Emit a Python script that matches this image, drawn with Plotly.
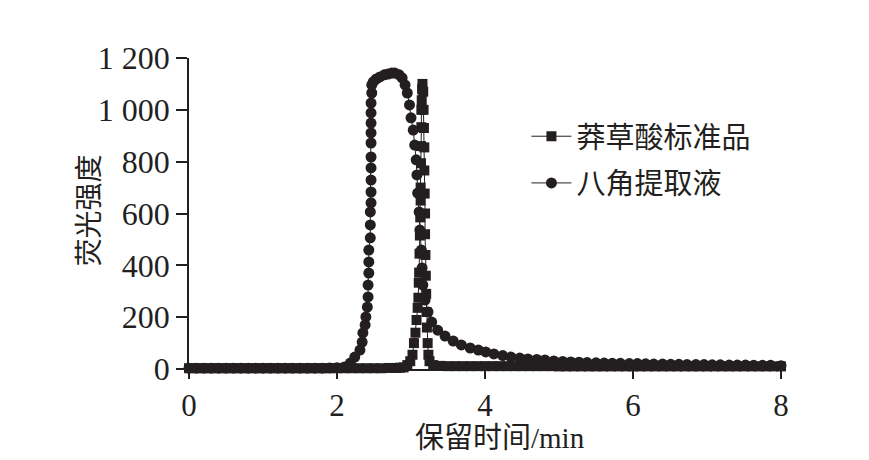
import plotly.graph_objects as go

# 八角提取液 (circles)
star_x = [0.0, 0.1, 0.2, 0.3, 0.4, 0.5, 0.6, 0.7, 0.8, 0.9, 1.0, 1.1, 1.2, 1.3, 1.4, 1.5,
          1.6, 1.7, 1.8, 1.9, 2.0, 2.1,
          2.18, 2.24, 2.31, 2.34, 2.35, 2.38, 2.39, 2.41, 2.42, 2.42, 2.43, 2.43, 2.43,
          2.45, 2.45, 2.45, 2.46, 2.46, 2.46, 2.46, 2.46, 2.46, 2.46, 2.46, 2.46, 2.46,
          2.47, 2.47, 2.49, 2.53, 2.58, 2.64, 2.69, 2.74, 2.78, 2.84, 2.88, 2.92, 2.95,
          2.98, 3.0, 3.03, 3.05, 3.07, 3.08, 3.09, 3.11, 3.12, 3.14, 3.15, 3.16, 3.19,
          3.23, 3.28, 3.36, 3.46, 3.57, 3.68, 3.80, 3.91, 4.01, 4.12, 4.24, 4.35, 4.47,
          4.58, 4.70, 4.81, 4.93, 5.05, 5.16, 5.27, 5.38, 5.50, 5.61, 5.72, 5.83, 5.95,
          6.06, 6.17, 6.28, 6.40, 6.51, 6.62, 6.73, 6.85, 6.96, 7.07, 7.18, 7.30, 7.41,
          7.52, 7.63, 7.75, 7.86, 8.0]
star_y = [3, 3, 3, 3, 3, 3, 3, 3, 3, 3, 3, 3, 3, 3, 3, 3,
          3, 3, 3, 4, 5, 8,
          23, 46, 73, 104, 139, 170, 201, 239, 278, 324, 370, 413, 459,
          506, 556, 606, 641, 683, 729, 776, 818, 872, 911, 949, 988, 1026,
          1065, 1096, 1108, 1119, 1127, 1135, 1138, 1142, 1142, 1135, 1123, 1096, 1065,
          1019, 969, 922, 864, 807, 749, 679, 606, 536, 459, 390, 324, 266,
          220, 181, 150, 127, 108, 93, 81, 73, 66, 58, 52, 46, 42,
          39, 37, 35, 31, 29, 27, 26, 25, 24, 23, 22, 22, 21,
          21, 20, 19, 19, 18, 18, 17, 17, 17, 16, 16, 15, 15,
          15, 14, 14, 14, 13]

# 莽草酸标准品 (squares)
shik_x = [0.0, 0.1, 0.2, 0.3, 0.4, 0.5, 0.6, 0.7, 0.8, 0.9, 1.0, 1.1, 1.2, 1.3, 1.4, 1.5,
          1.6, 1.7, 1.8, 1.9, 2.0, 2.1, 2.2, 2.3, 2.4, 2.5, 2.6, 2.7, 2.8,
          2.85, 2.9, 2.95, 2.99, 3.02, 3.04, 3.06, 3.075, 3.09, 3.10, 3.105, 3.11, 3.115,
          3.12, 3.125, 3.13, 3.13, 3.135, 3.135, 3.14, 3.14, 3.145, 3.15, 3.155,
          3.165, 3.17, 3.175, 3.18, 3.18, 3.185, 3.19, 3.19, 3.195, 3.2, 3.205, 3.21,
          3.215, 3.225, 3.235, 3.25, 3.3, 3.4,
          3.5, 3.6, 3.7, 3.8, 3.9, 4.0, 4.1, 4.2, 4.3, 4.4, 4.5, 4.6, 4.7, 4.8, 4.9,
          5.0, 5.1, 5.2, 5.3, 5.4, 5.5, 5.6, 5.7, 5.8, 5.9, 6.0, 6.1, 6.2, 6.3, 6.4,
          6.5, 6.6, 6.7, 6.8, 6.9, 7.0, 7.1, 7.2, 7.3, 7.4, 7.5, 7.6, 7.7, 7.8, 7.9, 8.0]
shik_y = [3, 3, 3, 3, 3, 3, 3, 3, 3, 3, 3, 3, 3, 3, 3, 3,
          3, 3, 3, 3, 3, 3, 3, 3, 3, 3, 3, 4, 4,
          5, 6, 15, 30, 55, 100, 140, 189, 236, 275, 333, 372, 445,
          515, 585, 650, 700, 794, 860, 933, 1000, 1037, 1080, 1100,
          1070, 1000, 930, 855, 766, 677, 600, 520, 440, 360, 290, 220,
          160, 100, 55, 30, 15, 12,
          11, 11, 11, 11, 11, 11, 11, 11, 11, 11, 11, 11, 11, 11, 11,
          10, 10, 10, 10, 10, 10, 10, 10, 10, 10, 10, 10, 10, 10, 10,
          10, 10, 10, 10, 10, 10, 10, 10, 10, 10, 10, 10, 10, 10, 10, 10]

x_ticks = [0, 2, 4, 6, 8]
y_ticks = [0, 200, 400, 600, 800, 1000, 1200]
y_tick_text = ["0", "200", "400", "600", "800", "1 000", "1 200"]

INK = "#231f20"
SERIF = "Liberation Serif, Noto Sans CJK SC"

fig = go.Figure()
fig.add_trace(go.Scatter(
    x=shik_x, y=shik_y, mode="lines+markers", name="莽草酸标准品",
    legendgroup="a",
    line=dict(color=INK, width=1),
    marker=dict(symbol="square", size=10, color=INK),
    cliponaxis=False,
))
fig.add_trace(go.Scatter(
    x=star_x, y=star_y, mode="lines+markers", name="八角提取液",
    legendgroup="b",
    line=dict(color=INK, width=1),
    marker=dict(symbol="circle", size=11, color=INK),
    cliponaxis=False,
))

fig.update_layout(
    width=861, height=452,
    margin=dict(l=181, r=88, t=50, b=91),
    paper_bgcolor="white", plot_bgcolor="white",
    font=dict(family=SERIF, color=INK, size=30),
    showlegend=True,
    legend=dict(
        x=0.57, y=0.83, xanchor="left", yanchor="top",
        bgcolor="rgba(0,0,0,0)",
        font=dict(family="Noto Sans CJK SC", size=29, color=INK),
        tracegroupgap=6, itemwidth=40,
    ),
    xaxis=dict(
        range=[0, 8], tickvals=x_ticks, ticktext=[str(v) for v in x_ticks],
        showgrid=False, zeroline=False,
        showline=True, linecolor=INK, linewidth=1.5,
        ticks="outside", ticklen=8, tickwidth=1.5, tickcolor=INK,
        tickfont=dict(family=SERIF, size=31, color=INK),
    ),
    yaxis=dict(
        range=[0, 1200], tickvals=y_ticks, ticktext=y_tick_text,
        showgrid=False, zeroline=False,
        showline=True, linecolor=INK, linewidth=1.5,
        ticks="outside", ticklen=11, tickwidth=1.5, tickcolor=INK,
        tickfont=dict(family=SERIF, size=32, color=INK),
    ),
    annotations=[
        dict(text="保留时间/min", xref="paper", yref="paper", x=0.525, y=-0.165,
             xanchor="center", yanchor="top", showarrow=False,
             font=dict(family=SERIF, size=29, color=INK)),
        dict(text="荧光强度", xref="paper", yref="paper", x=-0.172, y=0.51,
             xanchor="center", yanchor="middle", showarrow=False, textangle=-90,
             font=dict(family="Noto Sans CJK SC", size=28, color=INK)),
    ],
)

fig.write_html("out.html")
